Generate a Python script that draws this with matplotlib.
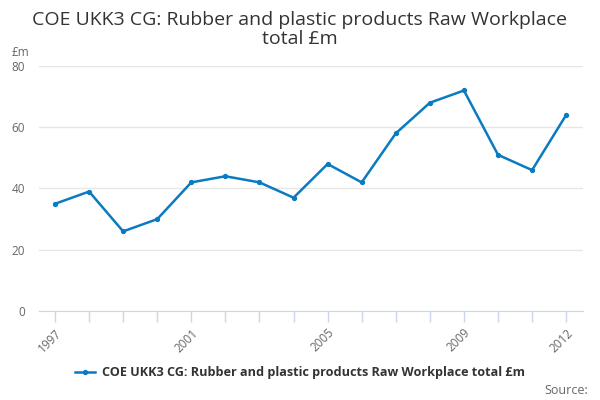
import matplotlib
matplotlib.use("Agg")
import matplotlib.pyplot as plt

plt.rcParams['font.family'] = ['Open Sans', 'DejaVu Sans']

# data
years = list(range(1997, 2013))
values = [35, 39, 26, 30, 42, 44, 42, 37, 48, 42, 58, 68, 72, 51, 46, 64]
tick_labels = {1997: '1997', 2001: '2001', 2005: '2005', 2009: '2009', 2012: '2012'}
series_name = 'COE UKK3 CG: Rubber and plastic products Raw Workplace total £m'

fig = plt.figure(figsize=(6, 4), dpi=100)
ax = fig.add_axes([0.065, 0.2225, 0.907, 0.6125])

x = list(range(len(years)))
ax.plot(x, values, color='#0a7bc1', linewidth=1.8, marker='o', markersize=2.8,
        label=series_name)

ax.set_xlim(-0.47, len(years) - 0.5)
ax.set_ylim(0, 80)
ax.set_yticks([0, 20, 40, 60, 80])
ax.yaxis.grid(True, color='#e6e6e6', linewidth=1)
ax.set_axisbelow(True)

ax.set_xticks(x)
ax.set_xticklabels([tick_labels.get(y, '') for y in years], rotation=45,
                   ha='right', rotation_mode='anchor')
ax.tick_params(axis='x', colors='#ccd6eb', length=8, width=1, labelcolor='#666666',
               labelsize=8.5, pad=3)
ax.tick_params(axis='y', length=0, labelcolor='#666666', labelsize=8.5, pad=10)

for side in ['top', 'right', 'left']:
    ax.spines[side].set_visible(False)
ax.spines['bottom'].set_color('#ccd6eb')

#title and unit label
fig.text(0.5, 0.927, 'COE UKK3 CG: Rubber and plastic products Raw Workplace\ntotal £m',
         ha='center', va='center', fontsize=14, color='#333333', linespacing=1.05)
fig.text(0.02, 0.868, '£m', fontsize=8.5, color='#666666', va='center')

leg = fig.legend(loc='center', bbox_to_anchor=(0.5, 0.068), frameon=False,
                 prop={'weight': 'bold', 'size': 9.1}, handlelength=1.6,
                 handletextpad=0.5)
for t in leg.get_texts():
    t.set_color('#333333')
fig.text(0.98, 0.025, 'Source:', ha='right', va='center', fontsize=9, color='#666666')

fig.savefig('out.png', dpi=100)
